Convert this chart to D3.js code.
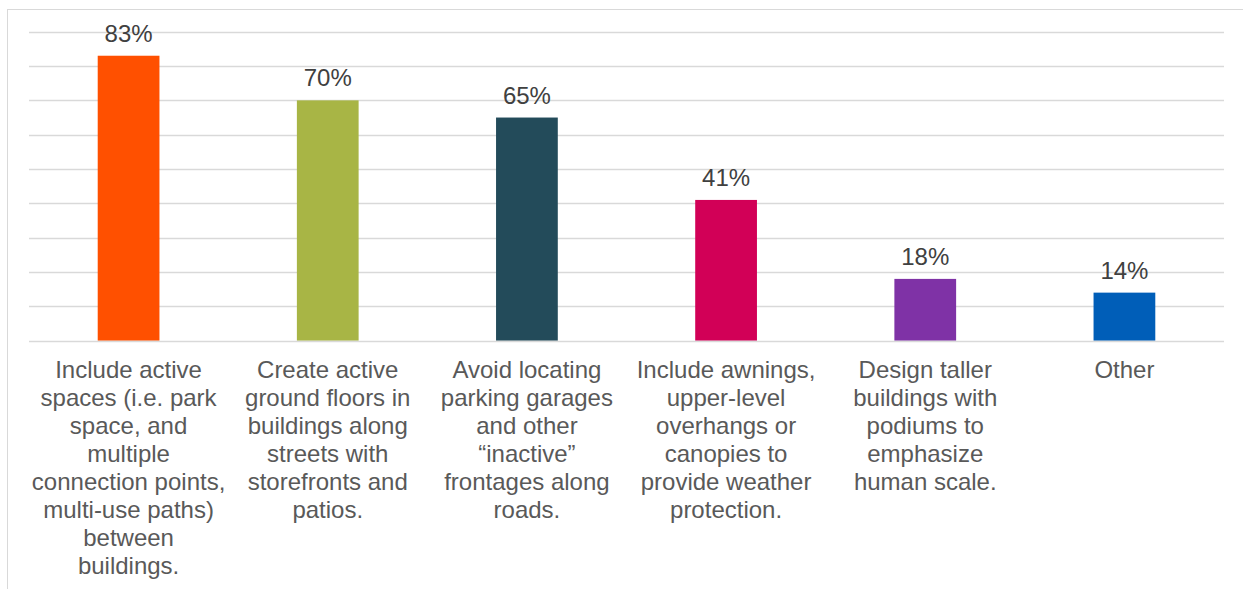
<!DOCTYPE html>
<html>
<head>
<meta charset="utf-8">
<script src="https://cdn.jsdelivr.net/npm/d3@7"></script>
<style>
  html, body { margin: 0; padding: 0; background: #ffffff; }
  svg { display: block; }
</style>
</head>
<body>
<svg id="chart" width="1243" height="589"></svg>
<script>
// Survey responses: share of respondents choosing each design approach
const categories = [
  "Include active\nspaces (i.e. park\nspace, and\nmultiple\nconnection points,\nmulti-use paths)\nbetween\nbuildings.",
  "Create active\nground floors in\nbuildings along\nstreets with\nstorefronts and\npatios.",
  "Avoid locating\nparking garages\nand other\n\u201cinactive\u201d\nfrontages along\nroads.",
  "Include awnings,\nupper-level\noverhangs or\ncanopies to\nprovide weather\nprotection.",
  "Design taller\nbuildings with\npodiums to\nemphasize\nhuman scale.",
  "Other"
];
const values = [83, 70, 65, 41, 18, 14];
const barColors = ["#FF5000", "#A8B545", "#234B5A", "#D20057", "#7F32A6", "#005EB8"];
const gridTicks = [10, 20, 30, 40, 50, 60, 70, 80, 90];

const svg = d3.select("#chart");
const font = "'Liberation Sans', Arial, sans-serif";

// chart frame
svg.append("rect")
  .attr("x", 7.5).attr("y", 9.5)
  .attr("width", 1300).attr("height", 700)
  .attr("fill", "none").attr("stroke", "#d9d9d9").attr("stroke-width", 1);

const plot = { left: 29, right: 1224, top: 31.7, bottom: 340.7 };

const x = d3.scaleBand()
  .domain(d3.range(categories.length))
  .range([plot.left, plot.right])
  .paddingInner(0.69)
  .paddingOuter(0.345);

const y = d3.scaleLinear().domain([0, 90]).range([plot.bottom, plot.top]);

// horizontal gridlines
svg.append("g")
  .selectAll("line")
  .data(gridTicks)
  .join("line")
  .attr("x1", plot.left).attr("x2", plot.right)
  .attr("y1", d => Math.round(y(d)) + 0.5)
  .attr("y2", d => Math.round(y(d)) + 0.5)
  .attr("stroke", "#d9d9d9").attr("stroke-width", 1.3);

// bars
svg.append("g")
  .selectAll("rect")
  .data(values)
  .join("rect")
  .attr("x", (d, i) => x(i))
  .attr("y", d => y(d))
  .attr("width", x.bandwidth())
  .attr("height", d => y(0) - y(d))
  .attr("fill", (d, i) => barColors[i]);

// baseline
svg.append("line")
  .attr("x1", plot.left).attr("x2", plot.right)
  .attr("y1", Math.round(y(0)) + 0.5).attr("y2", Math.round(y(0)) + 0.5)
  .attr("stroke", "#d9d9d9").attr("stroke-width", 1.3);

// value labels
svg.append("g")
  .selectAll("text")
  .data(values)
  .join("text")
  .attr("x", (d, i) => x(i) + x.bandwidth() / 2)
  .attr("y", d => y(d) - 14)
  .attr("text-anchor", "middle")
  .attr("font-family", font)
  .attr("font-size", 24)
  .attr("fill", "#404040")
  .text(d => d + "%");

// category labels, one tspan per line
const lineHeight = 28;
const cat = svg.append("g")
  .selectAll("text")
  .data(categories)
  .join("text")
  .attr("text-anchor", "middle")
  .attr("font-family", font)
  .attr("font-size", 24)
  .attr("fill", "#595959");

cat.each(function (d, i) {
  const cx = x(i) + x.bandwidth() / 2;
  d3.select(this).selectAll("tspan")
    .data(d.split("\n"))
    .join("tspan")
    .attr("x", cx)
    .attr("y", (t, j) => 378 + j * lineHeight)
    .text(t => t);
});
</script>
</body>
</html>
